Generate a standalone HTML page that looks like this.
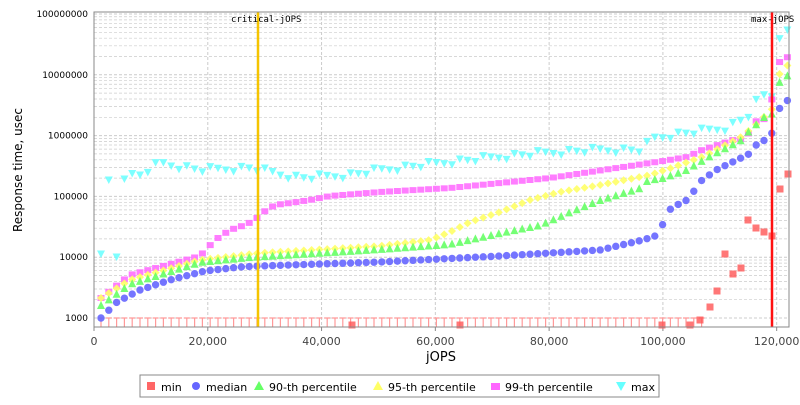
<!DOCTYPE html><html><head><style>body{margin:0;background:#fff}svg text{font-family:"DejaVu Sans","Liberation Sans",sans-serif}</style></head><body>
<svg id="s" width="800" height="400" xmlns="http://www.w3.org/2000/svg">
<rect width="800" height="400" fill="#fff"/>
<g id="grid"></g>
<g id="pts"></g>
<line x1="258" y1="12" x2="258" y2="327" stroke="#f5c400" stroke-width="2.5"/>
<line x1="772" y1="12" x2="772" y2="327" stroke="#ff1010" stroke-width="2.5"/>
<text x="231" y="22" font-size="9" style="font-family:'DejaVu Sans Mono','Liberation Mono',monospace">critical-jOPS</text>
<text x="751" y="22" font-size="9" style="font-family:'DejaVu Sans Mono','Liberation Mono',monospace">max-jOPS</text>
<rect x="94" y="12" width="695" height="315" fill="none" stroke="#888"/>
<text transform="translate(22,170) rotate(-90)" text-anchor="middle" font-size="12">Response time, usec</text>
<text x="441" y="361" text-anchor="middle" font-size="13">jOPS</text>
<g fill="#444" id="lab"></g>
<rect x="140" y="375" width="519" height="22" fill="#fff" stroke="#888"/>
<g font-size="11">
<rect x="147" y="382" width="8" height="8" fill="#f66"/><text x="161" y="391">min</text>
<circle cx="196" cy="386" r="4" fill="#66f"/><text x="206" y="391">median</text>
<polygon points="259,381 264,390 254,390" fill="#6f6"/><text x="269" y="391">90-th percentile</text>
<polygon points="378,381 383,390 373,390" fill="#ff6"/><text x="388" y="391">95-th percentile</text>
<rect x="491" y="383" width="9" height="7" fill="#f6f"/><text x="505" y="391">99-th percentile</text>
<polygon points="616,382 626,382 621,391" fill="#6ff"/><text x="631" y="391">max</text>
</g>
</svg>
<script>
var NS="http://www.w3.org/2000/svg",g=document.getElementById('grid'),p=document.getElementById('pts'),lab=document.getElementById('lab');
function el(par,t,a,txt){var e=document.createElementNS(NS,t);for(var k in a)e.setAttribute(k,a[k]);if(txt)e.textContent=txt;par.appendChild(e);return e;}
var d=60.8;
for(var i=0;i<=5;i++){var y0=318-i*d;for(var m=1;m<10;m++){var y=y0-Math.log10(m)*d;if(y<12||y>327)continue;el(g,'line',{x1:94,x2:789,y1:y,y2:y,stroke:'#ccc','stroke-dasharray':'3,2','stroke-width':m==1?1:0.7});}
el(lab,'text',{x:88,y:y0+3,'text-anchor':'end','font-size':9,fill:'#000'},String(Math.pow(10,3+i)));}
for(var v=0;v<=120000;v+=20000){var x=94+v*0.005689;el(g,'line',{x1:x,x2:x,y1:12,y2:327,stroke:'#ccc','stroke-dasharray':'3,2'});
el(g,'line',{x1:x,x2:x,y1:327,y2:331,stroke:'#888'});el(lab,'text',{x:x,y:345,'text-anchor':'middle','font-size':11},v?v.toLocaleString('en-US'):'0');}
function interp(k,x){for(var i=0;i<k.length-1;i++){if(x<=k[i+1][0]){var t=(x-k[i][0])/(k[i+1][0]-k[i][0]);return k[i][1]+t*(k[i+1][1]-k[i][1]);}}return k[k.length-1][1];}
var xs=[];for(var x=101;x<=789;x+=7.8)xs.push(x);
xs.forEach(function(x){if(x<705){el(p,'path',{d:'M'+(x-3)+' 318H'+(x+3)+'M'+x+' 318V327',stroke:'#f99','stroke-width':1.2,fill:'none'});}});
[[352,325],[460,325],[662,325],[690,325],[700,320],[710,307],[717,291],[725,254],[733,274],[741,268],[748,220],[756,228],[764,232],[772,236],[780,189],[788,174]].forEach(function(q){el(p,'rect',{x:q[0]-3.5,y:q[1]-3.5,width:7,height:7,fill:'#f55',opacity:0.8});});
var med=[[101,318],[109,310],[117,302],[140,290],[170,280],[205,271],[240,267],[260,266],[380,262],[500,256],[600,250],[643,240],[655,236],[663,224],[671,208],[687,200],[694,191],[702,180],[718,169],[741,158],[749,154],[757,144],[765,140],[773,132],[780,107],[788,100]];
var p90=[[101,305],[130,284],[200,262],[250,257],[300,254],[380,249],[450,244],[500,233],[540,225],[570,212],[600,200],[640,188],[648,180],[663,178],[686,170],[710,156],[741,140],[749,131],[765,116],[773,113],[780,80],[788,75]];
var p95=[[101,298],[130,280],[200,260],[260,253],[380,246],[430,240],[450,232],[470,222],[500,212],[530,200],[560,192],[600,185],[650,175],[671,168],[702,157],[741,137],[757,124],[773,108],[780,72],[788,65]];
var p99=[[101,298],[130,275],[200,256],[215,240],[230,230],[245,225],[255,220],[262,213],[275,205],[290,203],[310,200],[330,196],[380,192],[450,188],[550,178],[663,161],[687,157],[702,150],[733,140],[741,139],[749,133],[757,120],[765,119],[773,96],[780,60],[788,57]];
var mx=[[101,257],[110,177],[140,175],[160,163],[200,170],[250,168],[300,178],[350,175],[380,170],[450,162],[520,155],[560,152],[600,150],[640,150],[655,138],[679,134],[710,130],[726,128],[741,120],[749,115],[757,101],[765,95],[773,96],[780,32],[788,32]];
xs.forEach(function(x,i){
 var y=interp(mx,x)+((i*37)%7-3);if(i==1)y=180;if(i==2)y=257;
 el(p,'polygon',{points:(x-4)+','+(y-3.5)+' '+(x+4)+','+(y-3.5)+' '+x+','+(y+4),fill:'#6ff',opacity:0.85});
 y=interp(p99,x);el(p,'rect',{x:x-3.5,y:y-3,width:7,height:6,fill:'#f6f',opacity:0.85});
 y=interp(p95,x);el(p,'polygon',{points:x+','+(y-4)+' '+(x+4)+','+y+' '+x+','+(y+4)+' '+(x-4)+','+y,fill:'#ff6',opacity:0.9});
 y=interp(p90,x);el(p,'polygon',{points:x+','+(y-4)+' '+(x+4)+','+(y+4)+' '+(x-4)+','+(y+4),fill:'#6f6',opacity:0.9});
 y=interp(med,x);el(p,'circle',{cx:x,cy:y,r:3.7,fill:'#66f',opacity:0.9});
});
</script>
</body></html>
